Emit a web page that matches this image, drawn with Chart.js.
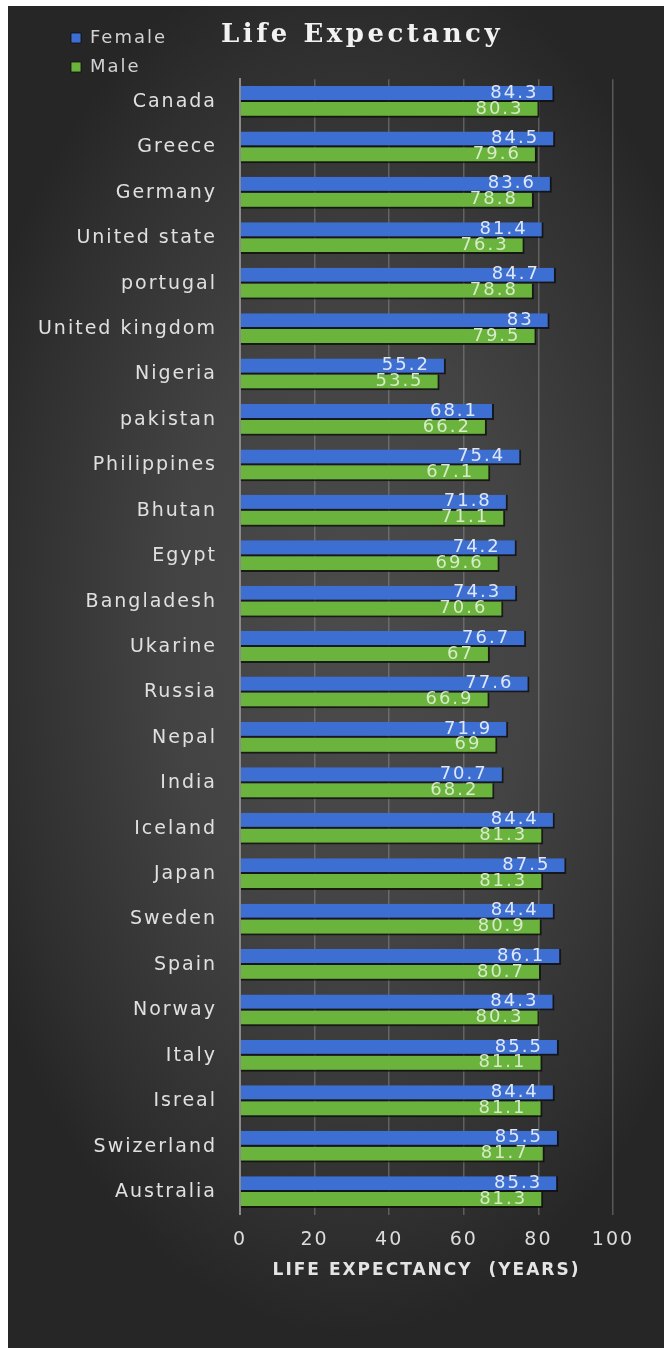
<!DOCTYPE html>
<html>
<head>
<meta charset="utf-8">
<script src="https://cdn.jsdelivr.net/npm/chart.js@4"></script>
<style>
  html, body { margin: 0; padding: 0; background: #fff; }
  #panel {
    position: absolute; left: 8px; top: 6px; width: 656px; height: 1342px;
    background: radial-gradient(ellipse 62% 52% at 52% 47%, #4b4b4b 0%, #434343 45%, #2f2f2f 85%, #262626 100%);
  }
</style>
</head>
<body>
<div id="panel"><canvas id="chart"></canvas></div>
<script>
// 国ごとの平均寿命
const countries = ['Canada', 'Greece', 'Germany', 'United state', 'portugal', 'United kingdom',
  'Nigeria', 'pakistan', 'Philippines', 'Bhutan', 'Egypt', 'Bangladesh', 'Ukarine', 'Russia',
  'Nepal', 'India', 'Iceland', 'Japan', 'Sweden', 'Spain', 'Norway', 'Italy', 'Isreal',
  'Swizerland', 'Australia'];
const female = [84.3, 84.5, 83.6, 81.4, 84.7, 83, 55.2, 68.1, 75.4, 71.8, 74.2, 74.3, 76.7,
  77.6, 71.9, 70.7, 84.4, 87.5, 84.4, 86.1, 84.3, 85.5, 84.4, 85.5, 85.3];
const male = [80.3, 79.6, 78.8, 76.3, 78.8, 79.5, 53.5, 66.2, 67.1, 71.1, 69.6, 70.6, 67,
  66.9, 69, 68.2, 81.3, 81.3, 80.9, 80.7, 80.3, 81.1, 81.1, 81.7, 81.3];
const axisMin = 0, axisMax = 100, axisStep = 20;

// 文字間隔（元画像は横に引き伸ばされている）
function widen(box, sp) {
  if (!box || box._widened) return;
  const orig = box.draw.bind(box);
  box.draw = function (area) {
    const c = this.ctx;
    const prev = c.letterSpacing;
    c.letterSpacing = sp;
    orig(area);
    c.letterSpacing = prev;
  };
  box._widened = true;
}

const spacing = {
  id: 'spacing',
  beforeUpdate(chart) { chart.ctx.letterSpacing = '2px'; },
  afterLayout(chart) {
    // 凡例とタイトルを左上/中央へずらす
    chart.legend.left = 52;
    chart.legend.right = 220;
    chart.legend.width = 168;
    chart.titleBlock.left = 52;
    widen(chart.titleBlock, '3.5px');
    widen(chart.scales.y, '1.5px');
  },
  beforeDraw(chart) { chart.ctx.letterSpacing = '2px'; }
};

// 棒の先端に値を表示
const barValueLabels = {
  id: 'barValueLabels',
  afterDatasetsDraw(chart) {
    const ctx = chart.ctx;
    ctx.save();
    ctx.font = '18px "DejaVu Sans"';
    ctx.textAlign = 'right';
    ctx.textBaseline = 'middle';
    chart.data.datasets.forEach((ds, i) => {
      const meta = chart.getDatasetMeta(i);
      ctx.fillStyle = ds.labelColor;
      meta.data.forEach((bar, j) => {
        ctx.fillText(String(ds.data[j]), bar.x - 16, bar.y - 1);
      });
    });
    ctx.restore();
  }
};

const ctx = document.getElementById('chart').getContext('2d');
new Chart(ctx, {
  type: 'bar',
  data: {
    labels: countries,
    datasets: [
      {
        label: 'Female',
        data: female,
        backgroundColor: '#3d6fd3',
        borderColor: 'rgba(12,14,20,0.8)',
        borderWidth: { top: 0, right: 2, bottom: 2, left: 0 },
        labelColor: '#dfe7f7'
      },
      {
        label: 'Male',
        data: male,
        backgroundColor: '#6ab33c',
        borderColor: 'rgba(12,18,8,0.8)',
        borderWidth: { top: 0, right: 2, bottom: 2, left: 0 },
        labelColor: '#d6ebc6'
      }
    ]
  },
  options: {
    indexAxis: 'y',
    responsive: true,
    maintainAspectRatio: false,
    animation: false,
    barPercentage: 1,
    categoryPercentage: 0.7,
    layout: { padding: { top: 12, left: 0, right: 0, bottom: 67 } },
    scales: {
      x: {
        min: axisMin,
        max: axisMax,
        ticks: {
          stepSize: axisStep,
          color: '#dcdcdc',
          padding: 14,
          font: { family: 'DejaVu Sans', size: 19 }
        },
        grid: { color: 'rgba(150,150,150,0.45)', lineWidth: 1.5, drawTicks: false },
        border: { display: false },
        title: {
          display: true,
          text: 'LIFE EXPECTANCY  (YEARS)',
          color: '#e4e4e4',
          padding: { top: -5, bottom: 0 },
          font: { family: 'DejaVu Sans', size: 17, weight: 'bold' }
        }
      },
      y: {
        ticks: {
          color: '#e0e0e0',
          padding: 23,
          font: { family: 'DejaVu Sans', size: 19 }
        },
        grid: { display: false, drawTicks: false },
        border: { display: true, color: '#8a8a8a', width: 2 },
        afterFit(scale) {
          scale.width = 232 - scale.chart.legend.width;
        }
      },
      yRight: {
        axis: 'y',
        type: 'category',
        position: 'right',
        ticks: { display: false },
        grid: { display: false, drawTicks: false },
        border: { display: false },
        afterFit(scale) { scale.width = 51; }
      }
    },
    plugins: {
      legend: {
        position: 'left',
        align: 'start',
        maxWidth: 1,
        labels: {
          boxWidth: 10,
          boxHeight: 10,
          padding: 11,
          color: '#d2d2d2',
          font: { family: 'DejaVu Sans', size: 18 }
        }
      },
      title: {
        display: true,
        text: 'Life Expectancy',
        color: '#f2f2f2',
        padding: { top: 2, bottom: 28 },
        font: { family: 'DejaVu Serif', size: 26, weight: 'bold' }
      },
      tooltip: { enabled: false }
    }
  },
  plugins: [spacing, barValueLabels]
});
</script>
</body>
</html>
